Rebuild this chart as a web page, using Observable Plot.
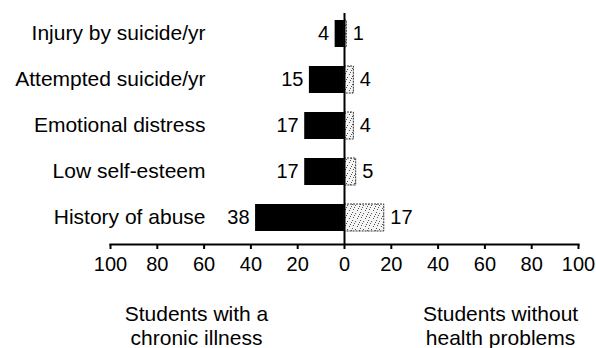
<!DOCTYPE html>
<html>
<head>
<meta charset="utf-8">
<script src="https://cdn.jsdelivr.net/npm/d3@7"></script>
<script src="https://cdn.jsdelivr.net/npm/@observablehq/plot@0.6"></script>
<style>
  body { margin: 0; background: #fff; }
  svg { font-family: "Liberation Sans", Arial, sans-serif; }
</style>
</head>
<body>
<div id="chart"></div>
<script>
const categories = ["Injury by suicide/yr", "Attempted suicide/yr", "Emotional distress", "Low self-esteem", "History of abuse"];
const chronicIllness = [4, 15, 17, 17, 38];
const noHealthProblems = [1, 4, 4, 5, 17];
const xTicks = [-100, -80, -60, -40, -20, 0, 20, 40, 60, 80, 100];
const groupTitles = ["Students with a\nchronic illness", "Students without\nhealth problems"];

const data = categories.map((c, i) => ({cat: c, chronic: chronicIllness[i], healthy: noHealthProblems[i]}));

const defs = () => {
  const d = d3.create("svg:defs");
  const p = d.append("pattern").attr("id", "stipple").attr("patternUnits", "userSpaceOnUse")
    .attr("width", 8).attr("height", 8);
  p.append("rect").attr("width", 8).attr("height", 8).attr("fill", "#f4f4f4");
  [[1,1],[5,2],[3,5],[7,6],[0,4],[6,0],[2,7]].forEach(([x, y]) =>
    p.append("rect").attr("x", x).attr("y", y).attr("width", 1).attr("height", 1).attr("fill", "#555"));
  return d.node();
};

const FS = 20;
const LS = 21;

const chart = Plot.plot({
  width: 596,
  height: 348,
  marginLeft: 110,
  marginRight: 18,
  marginTop: 13,
  marginBottom: 104,
  style: {fontSize: FS + "px", fontFamily: "Liberation Sans, Arial, sans-serif", color: "#000", background: "#fff"},
  x: {domain: [-100, 100], label: null},
  y: {domain: categories, range: [10, 241], paddingInner: 0.42, paddingOuter: 0.21, axis: null},
  marks: [
    defs,
    Plot.barX(data, {x: d => -d.chronic, y: "cat", fill: "#000"}),
    Plot.barX(data, {x: "healthy", y: "cat", fill: "url(#stipple)", stroke: "#333", strokeWidth: 1, strokeDasharray: "2,1"}),
    Plot.ruleX([0], {strokeWidth: 2}),
    Plot.frame({anchor: "bottom", strokeWidth: 2}),
    Plot.axisX({ticks: xTicks, tickFormat: d => Math.abs(d), tickSize: 5, tickPadding: 7, strokeWidth: 2, fontSize: FS, label: null}),
    Plot.text(data, {x: d => -d.chronic, y: "cat", text: "chronic", textAnchor: "end", dx: -6, fontSize: FS}),
    Plot.text(data, {x: "healthy", y: "cat", text: "healthy", textAnchor: "start", dx: 6, fontSize: FS}),
    Plot.text(data, {y: "cat", text: "cat", frameAnchor: "left", textAnchor: "end", dx: 95, dy: -1, fontSize: LS}),
    Plot.text([groupTitles[0]], {frameAnchor: "bottom-left", text: d => d, dx: 86, dy: 81, lineAnchor: "middle", lineHeight: 1.15, textAnchor: "middle", fontSize: LS}),
    Plot.text([groupTitles[1]], {frameAnchor: "bottom-right", text: d => d, dx: -78, dy: 81, lineAnchor: "middle", lineHeight: 1.15, textAnchor: "middle", fontSize: LS})
  ]
});
document.getElementById("chart").appendChild(chart);
</script>
</body>
</html>
